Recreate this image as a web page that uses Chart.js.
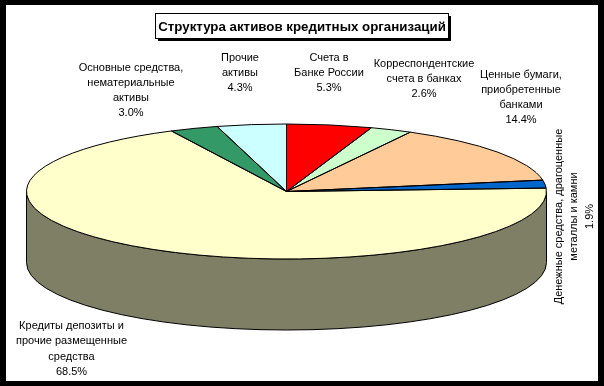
<!DOCTYPE html>
<html lang="ru">
<head>
  <meta charset="UTF-8">
  <title>Структура активов кредитных организаций</title>
  <script src="https://cdn.jsdelivr.net/npm/chart.js"></script>
  <style>
    body { margin: 0; background: #000; overflow: hidden; }
    canvas { display: block; }
  </style>
</head>
<body>
<canvas id="assetsChart" width="604" height="386"></canvas>

<script>
  // Data, clockwise from 12 o'clock
  const categories = [
    ["Счета в", "Банке России"],
    ["Корреспондентские", "счета в банках"],
    ["Ценные бумаги,", "приобретенные", "банками"],
    ["Денежные средства, драгоценные", "металлы и камни"],
    ["Кредиты депозиты и", "прочие размещенные", "средства"],
    ["Основные средства,", "нематериальные", "активы"],
    ["Прочие", "активы"]
  ];
  const shares = [5.3, 2.6, 14.4, 1.9, 68.5, 3.0, 4.3];
  const sliceColors = ["#FF0000", "#CCFFCC", "#FFCC99", "#0066CC", "#FFFFCC", "#339966", "#CCFFFF"];
  const chartTitle = "Структура активов кредитных организаций";

  // Layout of the flattened pie and the hand placed labels (x, y of first line, rotation)
  const pie = { cx: 286.5, cy: 191.5, rx: 260, ry: 67.5, depth: 71 };
  const labelSpots = [
    { x: 329, y: 57.5 },
    { x: 424, y: 63.5 },
    { x: 521, y: 74.5 },
    { x: 559, y: 216.5, vertical: true },
    { x: 71.5, y: 326 },
    { x: 131, y: 67.5 },
    { x: 240, y: 57.5 }
  ];

  // Side wall colour is half of the top colour, like Excel does it
  function darken(hex) {
    const n = parseInt(hex.slice(1), 16);
    const r = (n >> 16) >> 1, g = ((n >> 8) & 255) >> 1, b = (n & 255) >> 1;
    return `rgb(${r},${g},${b})`;
  }

  const flatPie = {
    id: "flatPie",
    beforeDraw(chart) {
      const c = chart.ctx;
      c.save();
      c.fillStyle = "#000";
      c.fillRect(0, 0, chart.width, chart.height);
      c.fillStyle = "#fff";
      c.fillRect(6, 5, 592, 376);
      // title box with a hard shadow
      c.fillStyle = "#000";
      c.fillRect(158, 16, 293, 25);
      c.fillStyle = "#fff";
      c.fillRect(155.5, 13.5, 293, 25);
      c.strokeStyle = "#000";
      c.strokeRect(155.5, 13.5, 293, 25);
      c.restore();
    },
    beforeDatasetsDraw(chart) {
      const c = chart.ctx;
      const arcs = chart.getDatasetMeta(0).data;
      // wall first, only the part that faces the viewer
      c.save();
      c.strokeStyle = "#000";
      c.lineWidth = 1;
      arcs.forEach((arc, i) => {
        const a0 = Math.max(arc.startAngle, 0);
        const a1 = Math.min(arc.endAngle, Math.PI);
        if (a1 <= a0) return;
        c.beginPath();
        c.ellipse(pie.cx, pie.cy, pie.rx, pie.ry, 0, a0, a1);
        c.ellipse(pie.cx, pie.cy + pie.depth, pie.rx, pie.ry, 0, a1, a0, true);
        c.closePath();
        c.fillStyle = darken(sliceColors[i]);
        c.fill();
        c.stroke();
      });
      c.restore();
      // squash the round pie into the ellipse for the library's own slices
      const first = arcs[0];
      c.save();
      c.translate(pie.cx, pie.cy);
      c.scale(pie.rx / first.outerRadius, pie.ry / first.outerRadius);
      c.translate(-first.x, -first.y);
    },
    afterDatasetsDraw(chart) {
      const c = chart.ctx;
      c.restore();
      // outlines after the transform is gone so the pen stays 1px
      c.save();
      c.strokeStyle = "#000";
      c.lineWidth = 1;
      chart.getDatasetMeta(0).data.forEach(arc => {
        c.beginPath();
        c.moveTo(pie.cx, pie.cy);
        c.ellipse(pie.cx, pie.cy, pie.rx, pie.ry, 0, arc.startAngle, arc.endAngle);
        c.closePath();
        c.stroke();
      });
      c.restore();
    },
    afterDraw(chart) {
      const c = chart.ctx;
      c.save();
      c.fillStyle = "#000";
      c.font = '11px "Liberation Sans"';
      c.textAlign = "center";
      c.textBaseline = "middle";
      categories.forEach((cat, i) => {
        const spot = labelSpots[i];
        const lines = cat.concat(shares[i].toFixed(1) + "%");
        c.save();
        c.translate(spot.x, spot.y);
        if (spot.vertical) c.rotate(-Math.PI / 2);
        lines.forEach((line, k) => c.fillText(line, 0, k * 15.3));
        c.restore();
      });
      c.restore();
    }
  };

  new Chart(document.getElementById("assetsChart"), {
    type: "pie",
    data: {
      labels: categories,
      datasets: [{
        data: shares,
        backgroundColor: sliceColors,
        borderWidth: 0,
        clip: false
      }]
    },
    options: {
      responsive: false,
      animation: false,
      events: [],
      layout: { padding: { top: 0, bottom: 127, left: 0, right: 0 } },
      plugins: {
        legend: { display: false },
        tooltip: { enabled: false },
        title: {
          display: true,
          text: chartTitle,
          color: "#000",
          font: { family: '"Liberation Sans"', size: 13.3, weight: "bold" },
          padding: { top: 19, bottom: 89 }
        }
      }
    },
    plugins: [flatPie]
  });
</script>
</body>
</html>
